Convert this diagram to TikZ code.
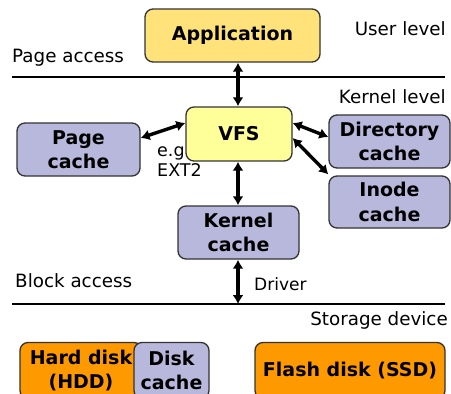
\documentclass[tikz,border=0pt]{standalone}
\usepackage{fontspec}
\setmainfont{DejaVu Sans}
\usetikzlibrary{arrows.meta}
\definecolor{appc}{HTML}{FFE27A}
\definecolor{vfsc}{HTML}{FFFF99}
\definecolor{cachec}{HTML}{B8B8DC}
\definecolor{diskc}{HTML}{FF9900}
\definecolor{edgec}{HTML}{333333}
\tikzset{
  box/.style={draw=edgec, line width=1.3pt, rounded corners=8pt, align=center, inner sep=0pt,
    font=\fontsize{19}{24.5}\selectfont\bfseries},
  lbl/.style={inner sep=0pt, font=\fontsize{18.3}{22}\selectfont},
  bar/.style={line width=2.8pt},
  biarrow/.style={line width=3.4pt, {Latex[length=9pt,width=11pt]}-{Latex[length=9pt,width=11pt]}}
}
\begin{document}
\begin{tikzpicture}[x=1pt,y=-1pt]
\useasboundingbox (0,0) rectangle (451,394);
\clip (0,0) rectangle (451,394);
% level lines
\coordinate (l1a) at (12,77);
\coordinate (l1b) at (445,77);
\coordinate (l2a) at (12,304);
\coordinate (l2b) at (445,304);
\coordinate (l2m) at (238,304);
\draw[bar] (l1a) -- (l1b);
\draw[bar] (l2a) -- (l2b);
% labels
\node[lbl, anchor=base west] (pa) at (12,62) {Page access};
\node[lbl, anchor=base east] (ul) at (446,35) {User level};
\node[lbl, anchor=base east] (kl) at (446,103) {Kernel level};
\node[lbl, anchor=base west] (ba) at (15,287) {Block access};
\node[lbl, anchor=base east] (sd) at (448,325) {Storage device};
\node[lbl, anchor=base west, font=\fontsize{17}{20}\selectfont] (drv) at (254,290) {Driver};
\node[lbl, anchor=north west, align=left, font=\fontsize{17.5}{20}\selectfont] (eg) at (157,146) {e.g.\\EXT2};
% boxes
\node[box, fill=appc, minimum width=175pt, minimum height=53pt] (app) at (232.5,35.5) {Application};
\node[box, fill=vfsc, minimum width=106pt, minimum height=54pt] (vfs) at (239,134) {VFS};
\node[box, fill=cachec, minimum width=123pt, minimum height=53pt] (page) at (78.5,149.5) {Page\\cache};
\node[box, fill=cachec, minimum width=121pt, minimum height=53pt] (dir) at (389.5,141.5) {Directory\\cache};
\node[box, fill=cachec, minimum width=121pt, minimum height=52pt] (inode) at (389.5,202) {Inode\\cache};
\node[box, fill=cachec, minimum width=121pt, minimum height=53pt] (kernel) at (238.5,232.5) {Kernel\\cache};
\node[box, fill=diskc, minimum width=122pt, minimum height=56pt] (hdd) at (81,370.5) {Hard disk\\(HDD)};
\node[box, fill=cachec, minimum width=75pt, minimum height=56pt] (dcache) at (171.5,370.5) {Disk\\cache};
\node[box, fill=diskc, minimum width=190pt, minimum height=56pt] (ssd) at (350,370.5) {Flash disk (SSD)};
% arrows
\draw[biarrow] (vfs.north -| l2m) -- (app.south -| l2m);
\draw[biarrow] (vfs.south -| l2m) -- (kernel.north -| l2m);
\draw[biarrow] (kernel.south -| l2m) -- (l2m);
\draw[biarrow] ([yshift=11.5pt]page.east) -- ([yshift=11pt]vfs.west);
\draw[biarrow] ([yshift=11pt]vfs.east) -- ([yshift=4.5pt]dir.west);
\draw[biarrow] ([yshift=-4pt]vfs.east) -- ([yshift=1pt]inode.north west);
\end{tikzpicture}
\end{document}
